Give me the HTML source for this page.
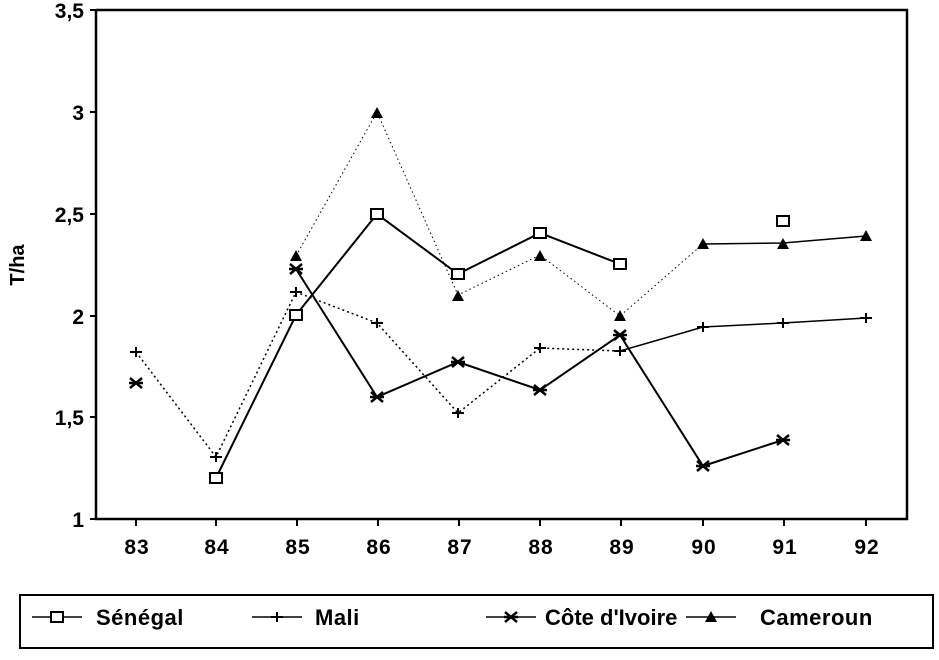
<!DOCTYPE html>
<html><head><meta charset="utf-8"><style>
body{margin:0;background:#fff}
text{font-family:"Liberation Sans",Arial,sans-serif;font-weight:bold;fill:#000}
</style></head><body>
<svg width="939" height="655" viewBox="0 0 939 655" xmlns="http://www.w3.org/2000/svg">
<defs>
<g id="sq"><rect x="-6" y="-5" width="12" height="10" fill="#fff" stroke="#000" stroke-width="2"/></g>
<g id="pl"><path d="M-6 0H6M0-5V5" stroke="#000" stroke-width="2"/></g>
<g id="st"><path d="M-6-5L6 5M-6 5L6-5M-7 0H7" stroke="#000" stroke-width="2.5"/></g>
<g id="tr"><path d="M-6 5L0-6L6 5Z" fill="#000"/></g>
</defs>
<path d="M96 10V519H907V10H96" fill="none" stroke="#000" stroke-width="2.5"/>
<g stroke="#000" stroke-width="2">
<path d="M90 10H96M90 112H96M90 214H96M90 316H96M90 417H96M90 519H96"/>
<path d="M136 519v7M216 519v7M297 519v7M378 519v7M459 519v7M540 519v7M621 519v7M703 519v7M784 519v7M866 519v7"/>
</g>
<g font-size="21" text-anchor="end">
<text x="84" y="18">3,5</text><text x="84" y="120">3</text><text x="84" y="222">2,5</text>
<text x="84" y="324">2</text><text x="84" y="425">1,5</text><text x="84" y="527">1</text>
</g>
<g font-size="21" text-anchor="middle" letter-spacing="1">
<text x="137" y="554">83</text><text x="217" y="554">84</text><text x="298" y="554">85</text><text x="379" y="554">86</text><text x="460" y="554">87</text><text x="541" y="554">88</text><text x="622" y="554">89</text><text x="704" y="554">90</text><text x="785" y="554">91</text><text x="867" y="554">92</text>
</g>
<text x="24" y="265" font-size="20" text-anchor="middle" transform="rotate(-90 24 265)">T/ha</text>
<polyline points="296,256 377,112 458,295 540,255 620,316 703,244" fill="none" stroke="#000" stroke-width="1" stroke-dasharray="1.5,3"/>
<polyline points="703,244 783,243 866,236" fill="none" stroke="#000" stroke-width="1.5"/>
<polyline points="136,352 216,457 296,292 377,323 458,413 540,348 620,351" fill="none" stroke="#000" stroke-width="1.5" stroke-dasharray="2,3"/>
<polyline points="620,351 703,327 783,323 866,318" fill="none" stroke="#000" stroke-width="1.5"/>
<polyline points="296,269 377,397 458,362 540,390 620,335 703,466 783,440" fill="none" stroke="#000" stroke-width="2"/>
<polyline points="216,478 296,315 377,214 458,274 540,233 620,264" fill="none" stroke="#000" stroke-width="2"/>
<g>
<use href="#tr" x="296" y="256"/><use href="#tr" x="377" y="113"/><use href="#tr" x="458" y="296"/><use href="#tr" x="540" y="256"/><use href="#tr" x="620" y="316"/><use href="#tr" x="703" y="244"/><use href="#tr" x="783" y="244"/><use href="#tr" x="866" y="236"/>
<use href="#pl" x="136" y="352"/><use href="#pl" x="216" y="457"/><use href="#pl" x="296" y="292"/><use href="#pl" x="377" y="323"/><use href="#pl" x="458" y="413"/><use href="#pl" x="540" y="348"/><use href="#pl" x="620" y="351"/><use href="#pl" x="703" y="327"/><use href="#pl" x="783" y="323"/><use href="#pl" x="866" y="318"/>
<use href="#st" x="136" y="383"/><use href="#st" x="296" y="269"/><use href="#st" x="377" y="397"/><use href="#st" x="458" y="362"/><use href="#st" x="540" y="390"/><use href="#st" x="620" y="335"/><use href="#st" x="703" y="466"/><use href="#st" x="783" y="440"/>
<use href="#sq" x="216" y="478"/><use href="#sq" x="296" y="315"/><use href="#sq" x="377" y="214"/><use href="#sq" x="458" y="274"/><use href="#sq" x="540" y="233"/><use href="#sq" x="620" y="264"/><use href="#sq" x="783" y="221"/>
</g>
<rect x="20" y="595" width="913" height="53" fill="none" stroke="#000" stroke-width="2"/>
<g stroke="#000" stroke-width="1.5">
<path d="M32 617H82"/><path d="M252 617H302"/><path d="M486 617H536"/><path d="M686 617H736"/>
</g>
<use href="#sq" x="57" y="617"/><use href="#pl" x="277" y="617"/><use href="#st" x="511" y="617"/><use href="#tr" x="711" y="617"/>
<g font-size="22" letter-spacing="0.5">
<text x="96" y="625">Sénégal</text><text x="315" y="625">Mali</text><text x="545" y="625" letter-spacing="0">Côte d'Ivoire</text><text x="760" y="625">Cameroun</text>
</g>
</svg>
</body></html>
